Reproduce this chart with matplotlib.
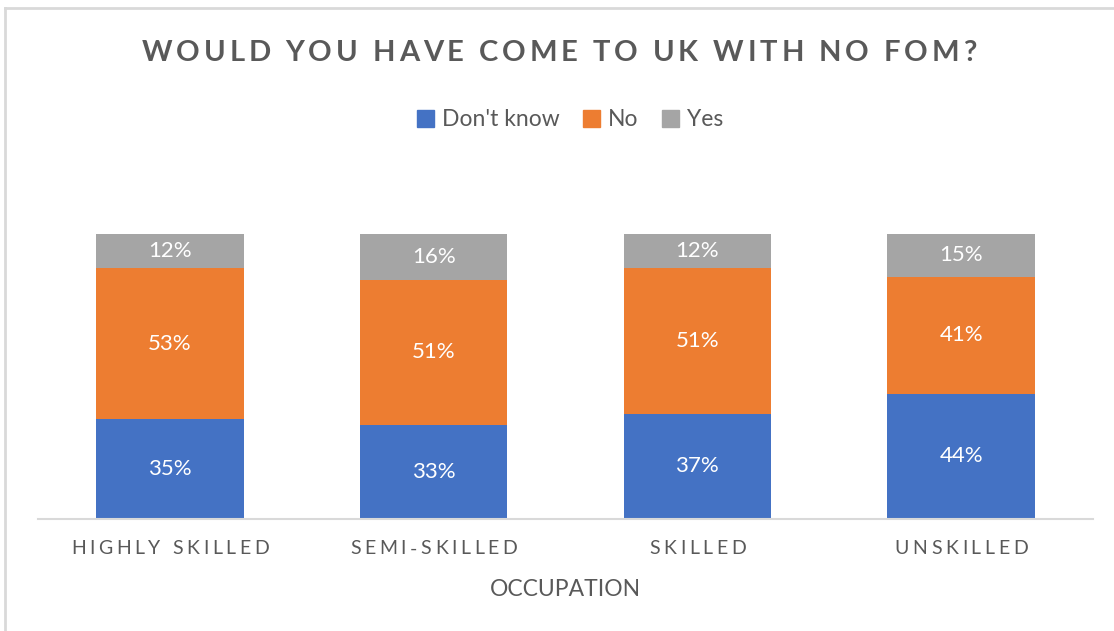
import matplotlib
matplotlib.use("Agg")
import matplotlib.pyplot as plt
from matplotlib.lines import Line2D
from matplotlib.patches import Patch
import numpy as np

plt.rcParams["font.family"] = ["Lato", "DejaVu Sans"]

categories = ["HIGHLY SKILLED", "SEMI-SKILLED", "SKILLED", "UNSKILLED"]
dont_know = [35, 33, 37, 44]
no = [53, 51, 51, 41]
yes = [12, 16, 12, 15]
series_names = ["Don't know", "No", "Yes"]
colors = ["#4472C4", "#ED7D31", "#A5A5A5"]
text_grey = "#595959"

W, H = 1114, 631
fig = plt.figure(figsize=(W / 100, H / 100), dpi=100)
ax = fig.add_axes([38 / W, 1 - 519 / H, (1093 - 38) / W, (519 - 234) / H])

x = np.arange(len(categories))
bottom = np.zeros(len(categories))
for name, vals, col in zip(series_names, [dont_know, no, yes], colors):
    vals = np.array(vals, dtype=float)
    bars = ax.bar(x, vals, 0.56, bottom=bottom, color=col, label=name)
    for b, v in zip(bars, vals):
        ax.text(b.get_x() + b.get_width() / 2, b.get_y() + v / 2, f"{v:.0f}%",
                ha="center", va="center", color="white", fontsize=16)
    bottom += vals

ax.set_xlim(-0.5, len(categories) - 0.5)
ax.set_ylim(0, 100)
for s in ["top", "right", "left"]:
    ax.spines[s].set_visible(False)
ax.spines["bottom"].set_color("#D9D9D9")
ax.spines["bottom"].set_linewidth(1.5)
ax.set_xticks([])
ax.set_yticks([])

renderer = fig.canvas.get_renderer()


def text_width(s, **kw):
    t = fig.text(0, 0, s, **kw)
    w = t.get_window_extent(renderer).width
    t.remove()
    return w


def spaced_text(cx, cy, s, spacing, **kw):
    # matplotlib has no letter-spacing, so lay the characters out one by one
    advances = []
    for i, c in enumerate(s):
        advances.append(text_width(s[:i] + "x", **kw) - text_width("x", **kw) if i else 0.0)
    total = text_width(s, **kw) + spacing * (len(s) - 1)
    x0 = cx - total / 2
    for i, c in enumerate(s):
        if c == " ":
            continue
        fig.text((x0 + advances[i] + i * spacing) / W, cy / H, c,
                 ha="left", va="center", **kw)


spaced_text(W / 2 + 2, H - 53, "WOULD YOU HAVE COME TO UK WITH NO FOM?", 3.9,
            fontsize=21, fontweight="bold", color=text_grey)

for xi, cat in zip(x, categories):
    px = ax.transData.transform((xi, 0))[0]
    spaced_text(px, H - 549, cat, 3.6, fontsize=14, color=text_grey)

fig.text(565 / W, 1 - 589 / H, "OCCUPATION", ha="center", va="center",
         fontsize=16.5, color=text_grey)

handles = [Patch(color=c, label=n) for n, c in zip(series_names, colors)]
fig.legend(handles=handles, loc="center", bbox_to_anchor=(570 / W, 1 - 120 / H),
           ncol=3, frameon=False, fontsize=16.5, labelcolor=text_grey,
           handlelength=0.75, handleheight=0.75, handletextpad=0.35, columnspacing=1.0)

# light frame on the top and left edges
fig.add_artist(Line2D([5 / W, 1], [1 - 8 / H, 1 - 8 / H], color="#D9D9D9", lw=2,
                      transform=fig.transFigure))
fig.add_artist(Line2D([5 / W, 5 / W], [0, 1 - 8 / H], color="#D9D9D9", lw=2,
                      transform=fig.transFigure))

fig.savefig("out.png", dpi=100)
